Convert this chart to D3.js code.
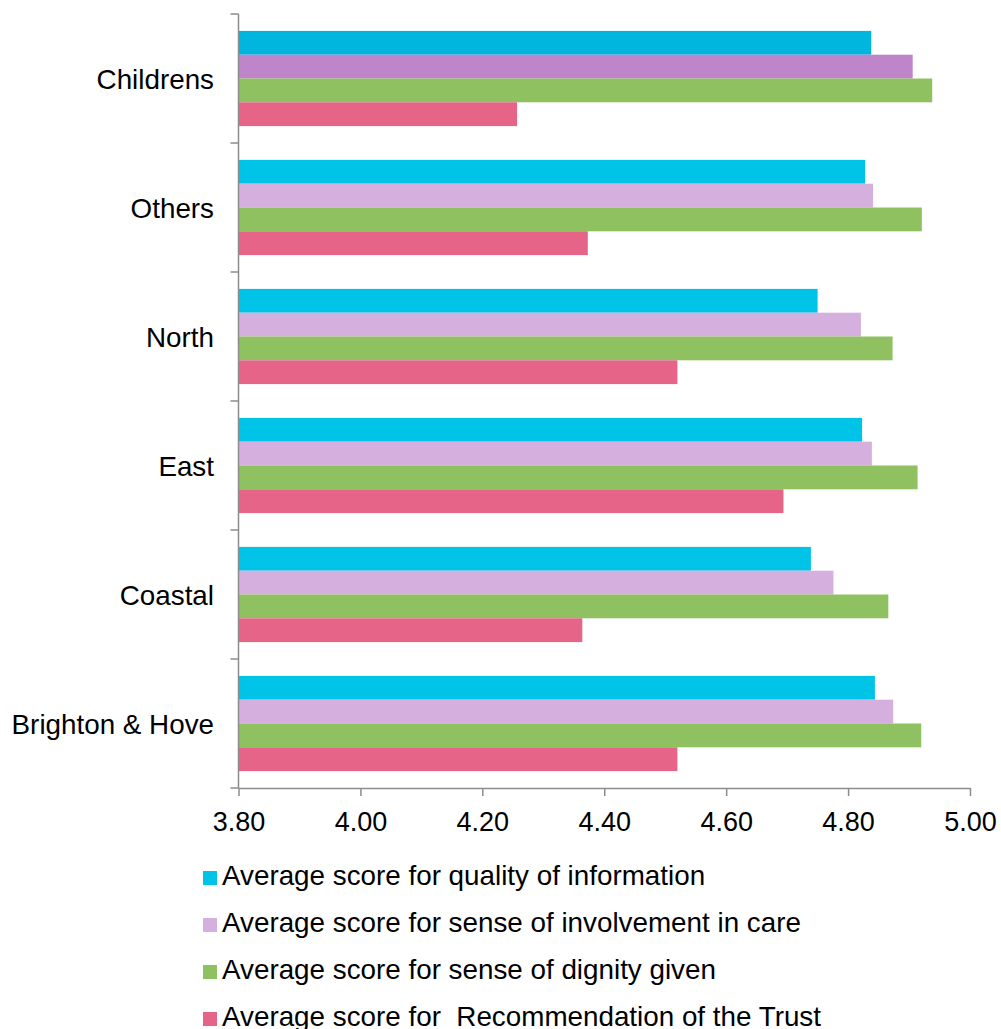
<!DOCTYPE html>
<html>
<head>
<meta charset="utf-8">
<script src="https://cdn.jsdelivr.net/npm/d3@7"></script>
<style>
  body { margin: 0; background: #fff; }
  text { font-family: "Liberation Sans", Arial, sans-serif; fill: #000; }
</style>
</head>
<body>
<svg id="chart" width="1001" height="1029"></svg>
<script>
// categories top to bottom, as in the picture
const categories = ['Childrens', 'Others', 'North', 'East', 'Coastal', 'Brighton & Hove']
const seriesNames = [
  'Average score for quality of information',
  'Average score for sense of involvement in care',
  'Average score for sense of dignity given',
  'Average score for  Recommendation of the Trust'
]
const quality     = [4.838, 4.828, 4.750, 4.823, 4.739, 4.844]
const involvement = [4.906, 4.841, 4.821, 4.839, 4.776, 4.874]
const dignity     = [4.938, 4.921, 4.873, 4.914, 4.866, 4.920]
const recommend   = [4.257, 4.373, 4.520, 4.694, 4.364, 4.520]
const xTicks = [3.8, 4.0, 4.2, 4.4, 4.6, 4.8, 5.0]

const seriesValues = [quality, involvement, dignity, recommend]
const colors = ['#00c3e8', '#d5afdd', '#8fc160', '#e56488']
// the Childrens group is drawn a bit darker in the original
const childColors = ['#00b6de', '#be85ca', '#8fc160', '#e56488']

const svg = d3.select('#chart')
const axisColor = '#8c8c8c'

let x = d3.scaleLinear()
  .domain([3.8, 5.0])
  .range([238.5, 970])

let y = d3.scaleBand()
  .domain(categories)
  .range([14, 788])
  .padding(0)

let yInner = d3.scaleBand()
  .domain(seriesNames)
  .range([0, y.bandwidth()])
  .paddingInner(0)
  .paddingOuter(0.71)

// bars
let rows = []
categories.forEach((c, ci) => {
  seriesNames.forEach((s, si) => {
    rows.push({cat: c, ci: ci, series: s, si: si, value: seriesValues[si][ci]})
  })
})

svg.append('g')
  .selectAll('rect')
  .data(rows)
  .enter()
  .append('rect')
  .attr('x', x(3.8))
  .attr('y', d => y(d.cat) + yInner(d.series))
  .attr('width', d => x(d.value) - x(3.8))
  .attr('height', yInner.bandwidth())
  .attr('fill', d => d.ci == 0 ? childColors[d.si] : colors[d.si])

// x axis
let xAxisgen = d3.axisBottom(x)
  .tickValues(xTicks)
  .tickFormat(d3.format('.2f'))
  .tickSize(8)
  .tickSizeOuter(0)

let xAxis = svg.append('g')
  .attr('transform', 'translate(0,788)')
  .call(xAxisgen)
xAxis.select('.domain').attr('stroke', axisColor).attr('stroke-width', 1.5)
xAxis.selectAll('.tick line').attr('stroke', axisColor).attr('stroke-width', 1.5)
xAxis.selectAll('.tick text')
  .attr('y', 43)
  .attr('dy', 0)
  .style('font-size', '27px')
  .style('font-family', '"Liberation Sans", Arial, sans-serif')
  .attr('fill', '#000')

// y axis: line plus ticks at category boundaries
let yAxis = svg.append('g')
yAxis.append('line')
  .attr('x1', x(3.8)).attr('x2', x(3.8))
  .attr('y1', y.range()[0]).attr('y2', y.range()[1])
  .attr('stroke', axisColor).attr('stroke-width', 1.5)

let bounds = categories.map(c => y(c)).concat([y.range()[1]])
yAxis.selectAll('.ytick')
  .data(bounds)
  .enter()
  .append('line')
  .attr('class', 'ytick')
  .attr('x1', x(3.8) - 8).attr('x2', x(3.8))
  .attr('y1', d => d).attr('y2', d => d)
  .attr('stroke', axisColor).attr('stroke-width', 1.5)

yAxis.selectAll('.ylabel')
  .data(categories)
  .enter()
  .append('text')
  .attr('class', 'ylabel')
  .attr('x', 214)
  .attr('y', d => y(d) + y.bandwidth() / 2)
  .attr('dy', '0.36em')
  .attr('text-anchor', 'end')
  .style('font-size', '27.8px')
  .text(d => d)

// legend
let legend = svg.append('g')
  .attr('transform', 'translate(203,871)')

let items = legend.selectAll('g')
  .data(seriesNames)
  .enter()
  .append('g')
  .attr('transform', (d, i) => `translate(0,${i * 47})`)

items.append('rect')
  .attr('width', 14)
  .attr('height', 14)
  .attr('fill', (d, i) => colors[i])

items.append('text')
  .attr('x', 19)
  .attr('y', 14)
  .style('font-size', '27.8px')
  .style('white-space', 'pre')
  .text(d => d)
</script>
</body>
</html>
